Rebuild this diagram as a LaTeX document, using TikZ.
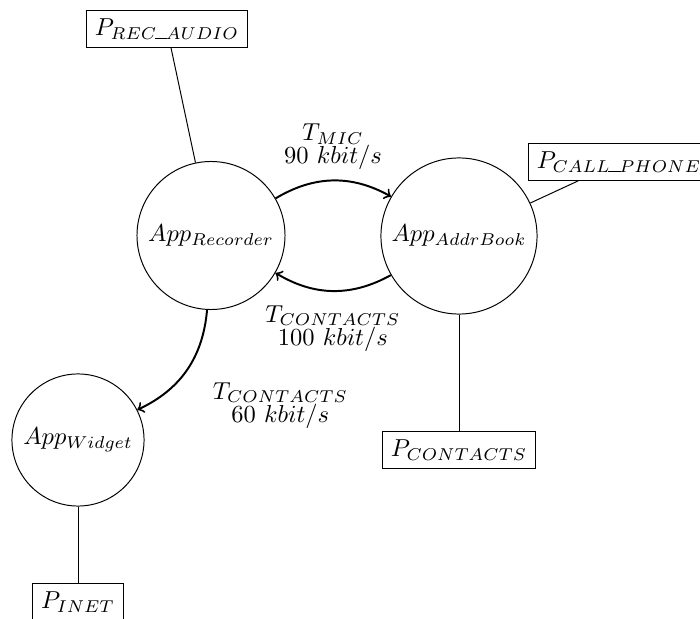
\documentclass[tikz,border=0pt]{standalone}
% underscore inside subscripts: a plain rule on the baseline
\newcommand{\usc}{\mbox{\kern-0.5pt\rule{5pt}{0.4pt}\kern-0.5pt}}
\begin{document}
\begin{tikzpicture}[x=0.408pt, y=-0.408pt,
  app/.style={circle, draw, inner sep=0pt},
  perm/.style={rectangle, draw, inner sep=3.33pt},
  flow/.style={->, thick, bend left=30},
  tag/.style={align=center, font=\fontsize{10}{9.5}\selectfont, inner sep=0pt}
]
\useasboundingbox (0,0) rectangle (700,619);

% applications
\node[app, minimum size=60.4pt] (rec)  at (211,235.5) {$App_{Recorder}$};
\node[app, minimum size=63.7pt] (addr) at (459,236)   {$App_{AddrBook}$};
\node[app, minimum size=53.9pt] (wid)  at (78,440)    {$App_{Widget}$};

% permissions
\node[perm] (prec)  at (167,29)  {$P_{REC\usc AUDIO}$};
\node[perm] (pcall) at (619,162) {$P_{CALL\usc PHONE}$};
\node[perm] (pcont) at (459,450) {$P_{CONTACTS}$};
\node[perm] (pinet) at (78,602)  {$P_{INET}$};

% permission links
\draw (prec) -- (rec);
\draw (pcall) -- (addr);
\draw (addr) -- (pcont);
\draw (wid) -- (pinet);

% data flows
\draw[flow] (rec) to node[tag, above=4pt] {$T_{MIC}$\\$90$ $kbit/s$} (addr);
\draw[flow] (addr) to node[tag, below=5.5pt] {$T_{CONTACTS}$\\$100$ $kbit/s$} (rec);
\draw[flow] (rec) to node[tag, anchor=west, xshift=10.2pt, yshift=-14.5pt] {$T_{CONTACTS}$\\$60$ $kbit/s$} (wid);
\end{tikzpicture}
\end{document}
